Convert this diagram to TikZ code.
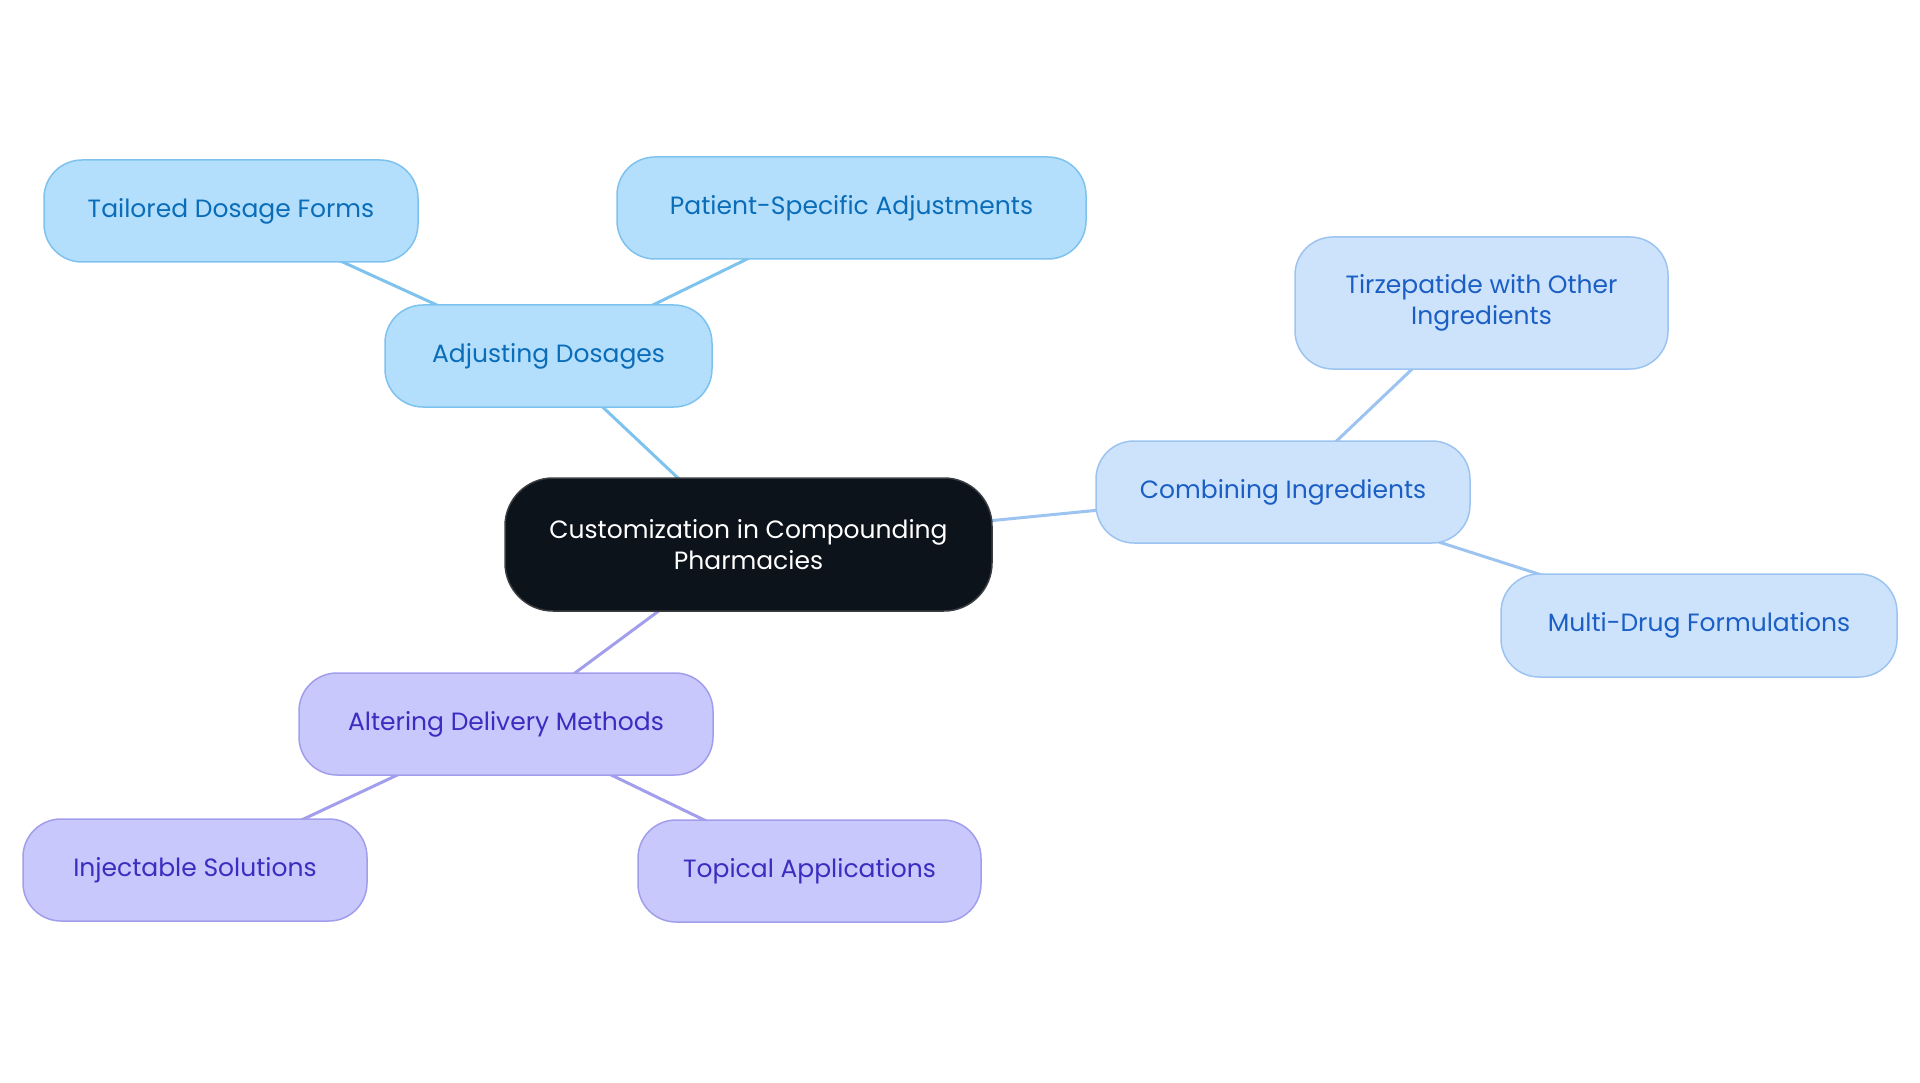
\documentclass[tikz,border=0pt]{standalone}
\usepackage{fontspec}
\setmainfont{Poppins}
\usetikzlibrary{backgrounds}
\definecolor{bfill}{HTML}{B3DFFD}
\definecolor{bdraw}{HTML}{7EC2EE}
\definecolor{btext}{HTML}{0B6DB8}
\definecolor{cfill}{HTML}{CDE3FC}
\definecolor{cdraw}{HTML}{9DC3F1}
\definecolor{ctext}{HTML}{1B5FC4}
\definecolor{pfill}{HTML}{C8C8FC}
\definecolor{pdraw}{HTML}{A29EEC}
\definecolor{ptext}{HTML}{3A2DC0}
\definecolor{kfill}{HTML}{0D131B}
\definecolor{kdraw}{HTML}{3A3D42}
\tikzset{
  x=1pt, y=-1pt,
  box/.style={rounded corners=38pt, line width=1.5pt, align=center, inner sep=0pt,
    font=\fontsize{25}{31}\selectfont},
  bluebox/.style={box, fill=bfill, draw=bdraw, text=btext},
  combox/.style={box, fill=cfill, draw=cdraw, text=ctext},
  purpbox/.style={box, fill=pfill, draw=pdraw, text=ptext},
  rootbox/.style={box, rounded corners=48pt, fill=kfill, draw=kdraw, text=white},
  bedge/.style={draw=bdraw, line width=3pt},
  cedge/.style={draw=cdraw, line width=3pt},
  pedge/.style={draw=pdraw, line width=3pt},
}
\begin{document}
\begin{tikzpicture}
\useasboundingbox (0,0) rectangle (1920,1083);
\node[rootbox, minimum width=487pt, minimum height=133pt] (root) at (748.5,544.5) {Customization in Compounding\\Pharmacies};
\node[bluebox, minimum width=327pt, minimum height=102pt] (adj) at (548.5,356) {Adjusting Dosages};
\node[bluebox, minimum width=374pt, minimum height=102pt] (tail) at (231,211) {Tailored Dosage Forms};
\node[bluebox, minimum width=469pt, minimum height=102pt] (pat) at (851.5,208) {Patient-Specific Adjustments};
\node[combox, minimum width=374pt, minimum height=102pt] (comb) at (1283,492) {Combining Ingredients};
\node[combox, minimum width=373pt, minimum height=132pt] (tirz) at (1481.5,303) {Tirzepatide with Other\\Ingredients};
\node[combox, minimum width=396pt, minimum height=103pt] (multi) at (1699,625.5) {Multi-Drug Formulations};
\node[purpbox, minimum width=414pt, minimum height=102pt] (alt) at (506,724) {Altering Delivery Methods};
\node[purpbox, minimum width=344pt, minimum height=102pt] (inj) at (195,870) {Injectable Solutions};
\node[purpbox, minimum width=343pt, minimum height=102pt] (top) at (809.5,871) {Topical Applications};
\begin{scope}[on background layer]
\draw[bedge] (root.center) -- (adj.center);
\draw[bedge] (adj.center) -- (tail.center);
\draw[bedge] (adj.center) -- (pat.center);
\draw[cedge] (root.center) -- (comb.center);
\draw[cedge] (comb.center) -- (tirz.center);
\draw[cedge] (comb.center) -- (multi.center);
\draw[pedge] (root.center) -- (alt.center);
\draw[pedge] (alt.center) -- (inj.center);
\draw[pedge] (alt.center) -- (top.center);
\end{scope}
\end{tikzpicture}
\end{document}
